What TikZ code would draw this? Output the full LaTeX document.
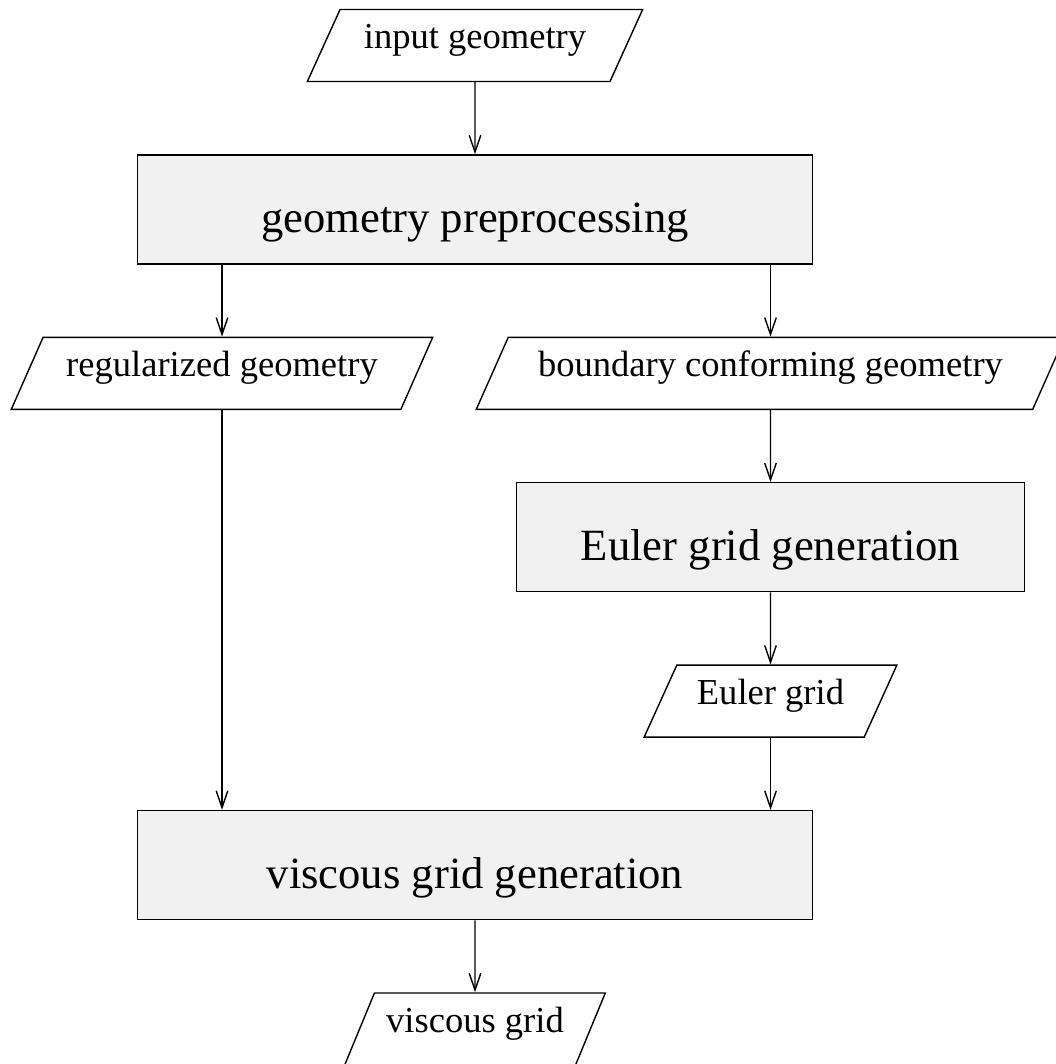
\documentclass[tikz,border=0pt]{standalone}
\usepackage{fontspec}
\setmainfont{Liberation Serif}
\usepackage{tikz}
\usetikzlibrary{shapes.geometric,arrows.meta,positioning}
\definecolor{procgray}{RGB}{241,241,241}

\begin{document}
\begin{tikzpicture}[
            datanode/.style={trapezium, trapezium left angle=60, trapezium right angle=120,
                        trapezium stretches=true, draw, line width=0.4pt,
                        minimum height=0.72cm, text height=4.9pt, text depth=3.1pt,
                        font=\fontsize{10.4}{12}\selectfont},
            procbox/.style={rectangle, draw, line width=0.4pt, fill=procgray,
                        minimum width=6.75cm, minimum height=1.09cm,
                        text height=13.2pt, text depth=0pt,
                        font=\fontsize{12.7}{15}\selectfont},
            arrow/.style={-{Straight Barb[length=4.8pt,width=3.3pt]}, line width=0.4pt}
        ]
            \useasboundingbox (0,0) rectangle (10.56,-10.64);

            \node[datanode, minimum width=3.36cm] (input) at (4.75,-0.455) {input geometry};
            \node[procbox, below=0.72cm of input] (prep) {geometry preprocessing};
            \node[datanode, minimum width=4.22cm, below=0.72cm of prep.south, xshift=-2.53cm] (reg) {regularized geometry};
            \node[datanode, minimum width=5.89cm, below=0.72cm of prep.south, xshift=2.955cm] (bnd) {boundary conforming geometry};
            \node[procbox, minimum width=5.08cm, below=0.72cm of bnd] (euler) {Euler grid generation};
            \node[datanode, minimum width=2.54cm, below=0.72cm of euler] (egrid) {Euler grid};
            \node[procbox, below=0.72cm of egrid.south, xshift=-2.955cm] (visc) {viscous grid generation};
            \node[datanode, minimum width=2.53cm, below=0.72cm of visc] (vgrid) {viscous grid};

            \draw[arrow] (input) -- (prep);
            \draw[arrow] (prep.south -| reg.north) -- (reg.north);
            \draw[arrow] (prep.south -| bnd.north) -- (bnd.north);
            \draw[arrow] (bnd) -- (euler);
            \draw[arrow] (euler) -- (egrid);
            \draw[arrow] (reg.south) -- (reg.south |- visc.north);
            \draw[arrow] (egrid.south) -- (egrid.south |- visc.north);
            \draw[arrow] (visc) -- (vgrid);
        \end{tikzpicture}
\end{document}
